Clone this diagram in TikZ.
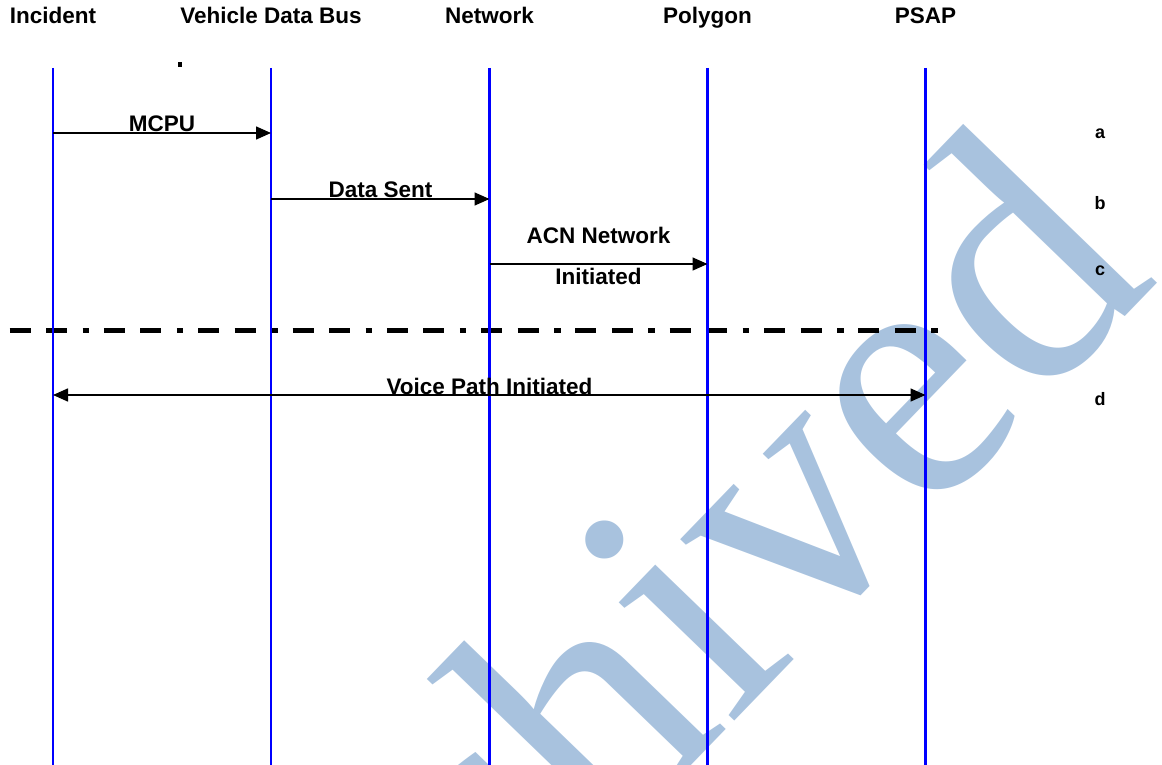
\documentclass[tikz,border=0pt]{standalone}
\usepackage{fontspec}
\setmainfont{Liberation Sans}
\newfontfamily\wmfont{Liberation Serif}
\usetikzlibrary{arrows.meta}
\definecolor{wmcol}{RGB}{168,194,222}
\definecolor{lifeblue}{RGB}{0,0,255}
\begin{document}
\begin{tikzpicture}[x=0.5pt,y=-0.5pt,
  lifeline/.style={draw=lifeblue,line width=1.2pt},
  tipx/.tip={Triangle[length=7.5pt,width=6.5pt]},
  msg/.style={draw=black,line width=0.75pt,-tipx},
  msgboth/.style={draw=black,line width=0.75pt,tipx-tipx},
  lbl/.style={font=\bfseries\fontsize{11.25}{13}\selectfont,inner sep=0pt,outer sep=0pt,anchor=base},
  sidelbl/.style={font=\bfseries\fontsize{9}{11}\selectfont,inner sep=0pt,outer sep=0pt,anchor=base},
  sepline/.style={draw=black,line width=2.5pt,
    dash pattern=on 10.5pt off 7.75pt on 10.5pt off 7.75pt on 3.25pt off 7.4pt},
  wmtext/.style={font=\wmfont\fontsize{180}{200}\selectfont,text=wmcol,inner sep=0pt,outer sep=0pt}
]
\useasboundingbox (0,0) rectangle (1162,765);

% watermark
\begin{scope}
  \clip (0,0) rectangle (1162,765);
  \node[wmtext,rotate=46,anchor=base west] (wmark) at (230,1244) {Archived};
\end{scope}

% headers
\node[lbl] (hInc) at (53,24) {Incident};
\node[lbl] (hVdb) at (271,24) {Vehicle Data Bus};
\node[lbl] (hNet) at (489.5,24) {Network};
\node[lbl] (hPol) at (707.5,24) {Polygon};
\node[lbl] (hPsap) at (925.5,24) {PSAP};

% stray mark
\fill (178.3,61.7) rectangle (181.5,66.7);

% lifeline coordinates
\coordinate (l1t) at (53,68);    \coordinate (l1b) at (53,765);
\coordinate (l2t) at (271,68);   \coordinate (l2b) at (271,765);
\coordinate (l3t) at (489.5,68); \coordinate (l3b) at (489.5,765);
\coordinate (l4t) at (707.5,68); \coordinate (l4b) at (707.5,765);
\coordinate (l5t) at (925.5,68); \coordinate (l5b) at (925.5,765);

% separator
\coordinate (sepA) at (9.6,330);
\coordinate (sepB) at (937.8,330);
\draw[sepline] (sepA) -- (sepB);

% message coordinates
\coordinate (m1a) at (53,133);    \coordinate (m1b) at (271,133);
\coordinate (m2a) at (271,199);   \coordinate (m2b) at (489.5,199);
\coordinate (m3a) at (489.5,264); \coordinate (m3b) at (707.5,264);
\coordinate (m4a) at (53,395);    \coordinate (m4b) at (925.5,395);

% lifelines
\foreach \i in {1,...,5} { \draw[lifeline] (l\i t) -- (l\i b); }

% messages
\draw[msg] (m1a) -- (m1b);
\draw[msg] (m2a) -- (m2b);
\draw[msg] (m3a) -- (m3b);
\draw[msgboth] (m4a) -- (m4b);

% message labels
\node[lbl] (t1) at (162,131.5) {MCPU};
\node[lbl] (t2) at (380.5,198) {Data Sent};
\node[lbl] (t3a) at (598.5,243) {ACN Network};
\node[lbl] (t3b) at (598.5,284) {Initiated};
\node[lbl] (t4) at (489.5,394) {Voice Path Initiated};

% side labels
\node[sidelbl] (sa) at (1100,138.3) {a};
\node[sidelbl] (sb) at (1100,209.3) {b};
\node[sidelbl] (sc) at (1100,275) {c};
\node[sidelbl] (sd) at (1100,405) {d};
\end{tikzpicture}
\end{document}
